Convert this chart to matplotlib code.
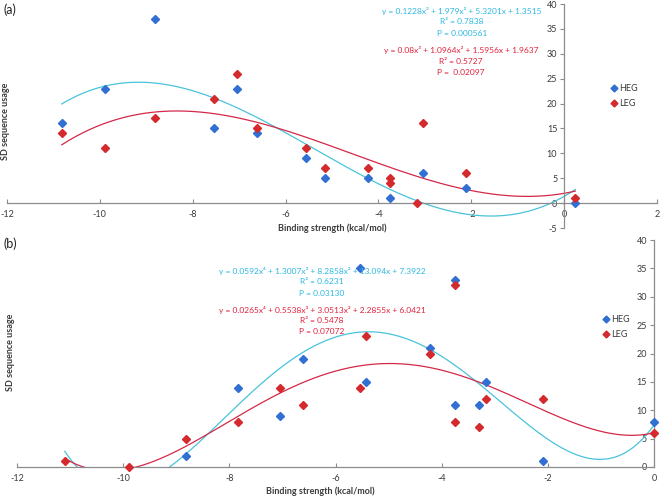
import numpy as np
import matplotlib
matplotlib.use("Agg")
import matplotlib.pyplot as plt
from matplotlib.lines import Line2D

plt.rcParams['font.family'] = ['Lato', 'DejaVu Sans']

# ---------------- Panel (a) data ----------------
a_heg_x = [-10.82, -9.89, -8.82, -7.54, -7.05, -6.62, -5.55, -5.16, -4.23, -3.76, -3.05, -2.11, 0.24]
a_heg_y = [16, 23, 37, 15, 23, 14, 9, 5, 5, 1, 6, 3, 0]
a_leg_x = [-10.82, -9.89, -8.82, -7.54, -7.05, -6.62, -5.55, -5.16, -4.23, -3.76, -3.76, -3.18, -3.05, -2.11, 0.24]
a_leg_y = [14, 11, 17, 21, 26, 15, 11, 7, 7, 5, 4, 0, 16, 6, 1]
a_heg_coef = [0.1228, 1.979, 5.3201, 1.3515]
a_leg_coef = [0.08, 1.0964, 1.5956, 1.9637]
a_heg_text = ["y = 0.1228x\u00b3 + 1.979x\u00b2 + 5.3201x + 1.3515", "R\u00b2 = 0.7838", "P = 0.000561"]
a_leg_text = ["y = 0.08x\u00b3 + 1.0964x\u00b2 + 1.5956x + 1.9637", "R\u00b2 = 0.5727", "P =  0.02097"]
a_xticks = [-12, -10, -8, -6, -4, -2, 0, 2]
a_yticks = [-5, 0, 5, 10, 15, 20, 25, 30, 35, 40]

# ---------------- Panel (b) data ----------------
b_heg_x = [-8.82, -7.83, -7.05, -6.62, -5.54, -5.43, -4.22, -3.75, -3.75, -3.29, -3.16, -2.10, 0.0]
b_heg_y = [2, 14, 9, 19, 35, 15, 21, 33, 11, 11, 15, 1, 8]
b_leg_x = [-11.10, -9.89, -8.82, -7.83, -7.05, -6.62, -5.54, -5.43, -4.22, -3.75, -3.75, -3.29, -3.16, -2.10, 0.0]
b_leg_y = [1, 0, 5, 8, 14, 11, 14, 23, 20, 32, 8, 7, 12, 12, 6]
b_heg_coef = [0.0592, 1.3007, 8.2858, 13.094, 7.3922]
b_leg_coef = [0.0265, 0.5538, 3.0513, 2.2855, 6.0421]
b_heg_text = ["y = 0.0592x\u2074 + 1.3007x\u00b3 + 8.2858x\u00b2 + 13.094x + 7.3922", "R\u00b2 = 0.6231", "P = 0.03130"]
b_leg_text = ["y = 0.0265x\u2074 + 0.5538x\u00b3 + 3.0513x\u00b2 + 2.2855x + 6.0421", "R\u00b2 = 0.5478", "P = 0.07072"]
b_xticks = [-12, -10, -8, -6, -4, -2, 0]
b_yticks = [0, 5, 10, 15, 20, 25, 30, 35, 40]

BLUE = '#3170d2'
RED = '#d42a2e'
CYAN_LINE = '#49c3db'
RED_LINE = '#d42848'
CYAN_TXT = '#2cb8e2'
RED_TXT = '#e2213c'
AXC = '#8c8c8c'
TXTC = '#3a3a3a'

W, H = 660, 497
fig = plt.figure(figsize=(6.6, 4.97), dpi=100)


def style_axes(ax, xlim, ylim, xticks, yticks):
    ax.set_xlim(*xlim)
    ax.set_ylim(*ylim)
    ax.spines['top'].set_visible(False)
    ax.spines['right'].set_visible(False)
    ax.spines['left'].set_position(('data', 0))
    ax.spines['bottom'].set_position(('data', 0))
    for s in ('left', 'bottom'):
        ax.spines[s].set_color(AXC)
        ax.spines[s].set_linewidth(0.9)
    ax.set_xticks(xticks)
    ax.set_yticks(yticks)
    ax.set_xticklabels([str(t) for t in xticks])
    ax.set_yticklabels([str(t) for t in yticks])
    ax.tick_params(axis='both', colors=AXC, labelcolor=TXTC, labelsize=6.5,
                   length=3, width=0.8, pad=2)
    ax.tick_params(axis='x', direction='in', pad=5)
    ax.tick_params(axis='y', direction='out')
    ax.patch.set_alpha(0)


def px(x, y):
    return x / W, 1 - y / H


# ---------------- Panel (a) ----------------
axa = fig.add_axes([7 / W, 1 - 228 / H, 650 / W, 224 / H])
style_axes(axa, (-12, 2), (-5, 40), a_xticks, a_yticks)
xa = np.linspace(min(a_heg_x), max(a_heg_x), 300)
axa.plot(xa, np.polyval(a_heg_coef, xa), color=CYAN_LINE, lw=0.9, zorder=2)
axa.plot(xa, np.polyval(a_leg_coef, xa), color=RED_LINE, lw=0.9, zorder=2)
axa.plot(a_heg_x, a_heg_y, 'D', color=BLUE, ms=4.2, mec=BLUE, zorder=3)
axa.plot(a_leg_x, a_leg_y, 'D', color=RED, ms=4.2, mec=RED, zorder=4)

for i, t in enumerate(a_heg_text):
    fig.text(*px(462, 11 + 11 * i), t, color=CYAN_TXT, fontsize=6, ha='center', va='center', zorder=1)
for i, t in enumerate(a_leg_text):
    fig.text(*px(461, 50 + 11 * i), t, color=RED_TXT, fontsize=6, ha='center', va='center', zorder=1)

handles = [Line2D([], [], marker='D', ls='none', color=BLUE, ms=3.5, label='HEG'),
           Line2D([], [], marker='D', ls='none', color=RED, ms=3.5, label='LEG')]
fig.legend(handles=handles, loc='center left', bbox_to_anchor=px(607, 96), frameon=False,
           fontsize=6.5, handlelength=0.6, handletextpad=0.2, labelspacing=0.6,
           borderpad=0, labelcolor=TXTC)

fig.text(*px(3, 10), '(a)', fontsize=9, color='#222222', ha='left', va='center')
fig.text(*px(332, 228), 'Binding strength (kcal/mol)', fontsize=6.5, fontweight='bold',
         color=TXTC, ha='center', va='center')
fig.text(*px(6, 121), 'SD sequence usage', fontsize=6.5, fontweight='bold',
         color=TXTC, ha='center', va='center', rotation=90)

# ---------------- Panel (b) ----------------
axb = fig.add_axes([17 / W, 1 - 467 / H, 637 / W, 227 / H])
style_axes(axb, (-12, 0), (0, 40), b_xticks, b_yticks)
axb.spines['left'].set_position(('data', 0))
xb = np.linspace(min(b_leg_x), 0.0, 400)
axb.plot(xb, np.polyval(b_heg_coef, xb), color=CYAN_LINE, lw=0.9, zorder=2)
axb.plot(xb, np.polyval(b_leg_coef, xb), color=RED_LINE, lw=0.9, zorder=2)
axb.plot(b_heg_x, b_heg_y, 'D', color=BLUE, ms=4.2, mec=BLUE, zorder=3, clip_on=False)
axb.plot(b_leg_x, b_leg_y, 'D', color=RED, ms=4.2, mec=RED, zorder=4, clip_on=False)

for i, t in enumerate(b_heg_text):
    fig.text(*px(322, 271 + 11 * i), t, color=CYAN_TXT, fontsize=6, ha='center', va='center', zorder=1)
for i, t in enumerate(b_leg_text):
    fig.text(*px(322, 310 + 10.5 * i), t, color=RED_TXT, fontsize=6, ha='center', va='center', zorder=1)

handles_b = [Line2D([], [], marker='D', ls='none', color=BLUE, ms=3.5, label='HEG'),
             Line2D([], [], marker='D', ls='none', color=RED, ms=3.5, label='LEG')]
fig.legend(handles=handles_b, loc='center left', bbox_to_anchor=px(599, 327), frameon=False,
           fontsize=6.5, handlelength=0.6, handletextpad=0.2, labelspacing=0.6,
           borderpad=0, labelcolor=TXTC)

fig.text(*px(3, 244), '(b)', fontsize=9, color='#222222', ha='left', va='center')
fig.text(*px(320, 491), 'Binding strength (kcal/mol)', fontsize=6.5, fontweight='bold',
         color=TXTC, ha='center', va='center')
fig.text(*px(11, 352), 'SD sequence usage', fontsize=6.5, fontweight='bold',
         color=TXTC, ha='center', va='center', rotation=90)

fig.savefig('out.png', dpi=100)
